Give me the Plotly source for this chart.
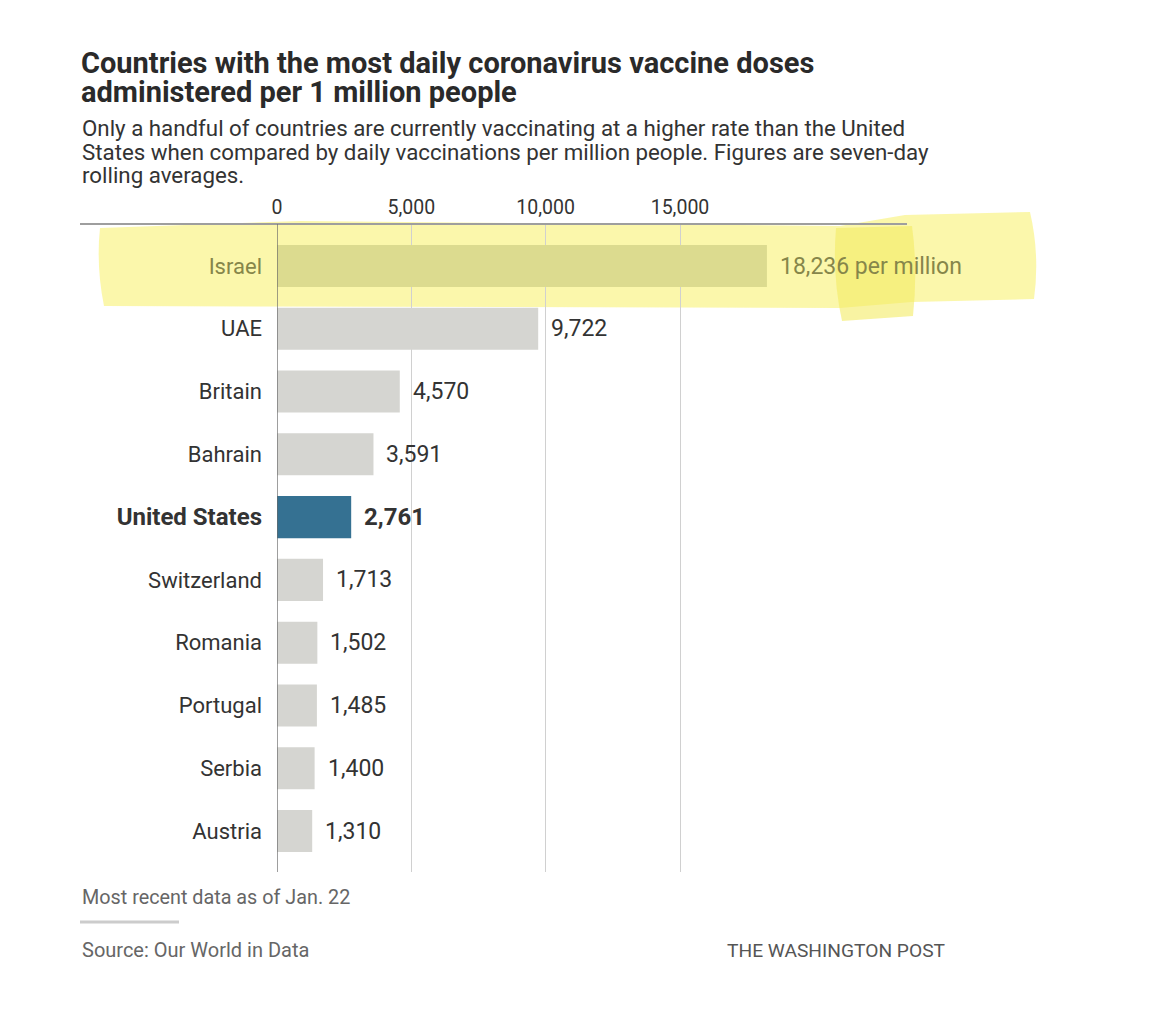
import plotly.graph_objects as go

# --- data ---
countries = ["Israel", "UAE", "Britain", "Bahrain", "United States",
             "Switzerland", "Romania", "Portugal", "Serbia", "Austria"]
doses_per_million = [18236, 9722, 4570, 3591, 2761, 1713, 1502, 1485, 1400, 1310]
value_labels = ["18,236 per million", "9,722", "4,570", "3,591", "2,761",
                "1,713", "1,502", "1,485", "1,400", "1,310"]
x_ticks = [0, 5000, 10000, 15000]
x_tick_labels = ["0", "5,000", "10,000", "15,000"]

title_lines = ["Countries with the most daily coronavirus vaccine doses",
               "administered per 1 million people"]
subtitle_lines = ["Only a handful of countries are currently vaccinating at a higher rate than the United",
                  "States when compared by daily vaccinations per million people. Figures are seven-day",
                  "rolling averages."]

# --- page geometry (pixels, as measured on the reference) ---
W, H = 1170, 1035
OFF = 8  # page body margin in the browser
PLOT_L, PLOT_R = 277, 907
PLOT_T, PLOT_B = 224, 872
FONT = "Roboto"
TEXT = "#333333"
OLIVE = "#86864a"


def px(x):
    return (x - PLOT_L) / (PLOT_R - PLOT_L)


def py(y):
    return (PLOT_B - y) / (PLOT_B - PLOT_T)


bar_colors = []
label_colors = []
for c in countries:
    if c == "Israel":
        bar_colors.append("#dcdb8f")
        label_colors.append(OLIVE)
    elif c == "United States":
        bar_colors.append("#357192")
        label_colors.append(TEXT)
    else:
        bar_colors.append("#d5d5d1")
        label_colors.append(TEXT)

tick_text = []
for c, col in zip(countries, label_colors):
    if c == "United States":
        tick_text.append(f"<b style='font-size:24px'>{c}</b>")
    else:
        tick_text.append(f"<span style='color:{col}'>{c}</span>")

fig = go.Figure()
fig.add_trace(go.Bar(
    x=doses_per_million,
    y=countries,
    orientation="h",
    marker=dict(color=bar_colors, line=dict(width=0)),
    width=0.67,
    hoverinfo="skip",
))

# value labels next to the bars
for c, v, lab, col in zip(countries, doses_per_million, value_labels, label_colors):
    txt = f"<b style='font-size:24px'>{lab}</b>" if c == "United States" else lab
    fig.add_annotation(x=v, y=c, xref="x", yref="y", text=txt, showarrow=False,
                       xanchor="left", yanchor="middle", xshift=11,
                       font=dict(family=FONT, size=23, color=col))

# px per category ~62.8, Israel centred at y=266
step = (831 - 266) / 9
y_top = -(266 - PLOT_T) / step
y_bot = 9 + (PLOT_B - 831) / step
x_max = (PLOT_R - PLOT_L) / ((680 - 277) / 15000)

shapes = [
    # yellow highlighter strokes (drawn under everything)
    dict(type="path", xref="paper", yref="paper", layer="below", line=dict(width=0),
         fillcolor="rgba(248,242,120,0.62)",
         path=(f"M {px(100)},{py(228)} Q {px(96)},{py(266)} {px(104)},{py(306)} "
               f"L {px(840)},{py(308)} L {px(912)},{py(302)} L {px(1034)},{py(299)} "
               f"Q {px(1040)},{py(255)} {px(1030)},{py(212)} L {px(905)},{py(215)} "
               f"L {px(840)},{py(226)} L {px(300)},{py(221)} Z")),
    dict(type="path", xref="paper", yref="paper", layer="below", line=dict(width=0),
         fillcolor="rgba(243,235,100,0.6)",
         path=(f"M {px(836)},{py(228)} L {px(912)},{py(226)} Q {px(918)},{py(270)} {px(913)},{py(316)} "
               f"L {px(842)},{py(321)} Q {px(832)},{py(275)} {px(836)},{py(228)} Z")),
    # top rule
    dict(type="line", xref="paper", yref="paper", x0=px(80), x1=px(907),
         y0=py(224), y1=py(224), line=dict(color="#9e9e9e", width=2)),
    # zero line
    dict(type="line", xref="x", yref="paper", x0=0, x1=0, y0=0, y1=1,
         line=dict(color="#6a6a6a", width=1.3)),
    # short rule above source
    dict(type="line", xref="paper", yref="paper", x0=px(80), x1=px(179),
         y0=py(922), y1=py(922), line=dict(color="#cccccc", width=3)),
]

annotations = []
for i, line in enumerate(title_lines):
    annotations.append(dict(text=f"<b>{line}</b>", x=px(79), y=py(63 + 28.5 * i),
                            xanchor="left", yanchor="middle",
                            font=dict(family=FONT, size=29, color="#2a2a2a")))
for i, line in enumerate(subtitle_lines):
    annotations.append(dict(text=line, x=px(80), y=py(128.5 + 23.5 * i),
                            xanchor="left", yanchor="middle",
                            font=dict(family=FONT, size=22.3, color="#333333")))
annotations += [
    dict(text="Most recent data as of Jan. 22", x=px(80), y=py(897), xanchor="left", yanchor="middle",
         font=dict(family=FONT, size=19.8, color="#666666")),
    dict(text="Source: Our World in Data", x=px(80), y=py(950), xanchor="left", yanchor="middle",
         font=dict(family=FONT, size=20, color="#666666")),
    dict(text="THE WASHINGTON POST", x=px(948), y=py(950), xanchor="right", yanchor="middle",
         font=dict(family=FONT, size=19.2, color="#555555")),
]
for a in annotations:
    fig.add_annotation(xref="paper", yref="paper", showarrow=False, **a)

fig.update_layout(
    width=W, height=H,
    margin=dict(l=PLOT_L - OFF, r=W - (PLOT_R - OFF), t=PLOT_T - OFF, b=H - (PLOT_B - OFF),
                autoexpand=False),
    paper_bgcolor="rgba(0,0,0,0)",
    plot_bgcolor="rgba(0,0,0,0)",
    showlegend=False,
    shapes=shapes,
    font=dict(family=FONT, color=TEXT),
    xaxis=dict(range=[0, x_max], side="top", tickvals=x_ticks, ticktext=x_tick_labels,
               showgrid=True, gridcolor="#d0d0d0", gridwidth=1, zeroline=False,
               showline=False, ticks="", ticklabelstandoff=5,
               tickfont=dict(family=FONT, size=19.5, color=TEXT), fixedrange=True),
    yaxis=dict(range=[y_bot, y_top], type="category", tickvals=countries, ticktext=tick_text,
               showgrid=False, zeroline=False, showline=False, ticks="",
               ticklabelstandoff=14, tickfont=dict(family=FONT, size=22, color=TEXT),
               fixedrange=True),
)

fig.write_html("out.html")
